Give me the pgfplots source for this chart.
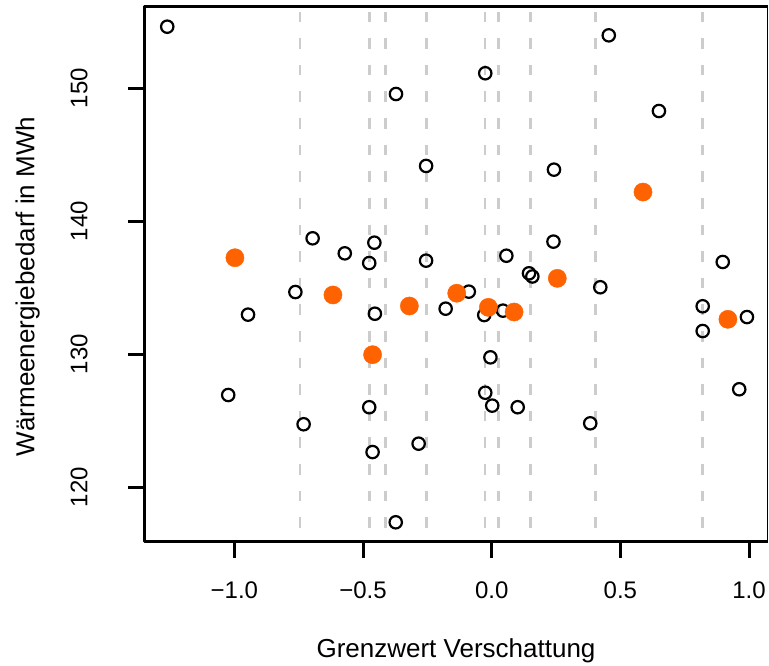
\documentclass[border=0pt]{standalone}
\usepackage{fontspec}
\setmainfont{Liberation Sans}
\usepackage{pgfplots}
\pgfplotsset{compat=1.18}
\definecolor{ptorange}{RGB}{255,98,0}
\definecolor{vline}{RGB}{204,204,204}
\pgfplotsset{vl/.style={vline, line width=1.3bp, dash pattern=on 5.3bp off 8bp, dash phase=10.55bp}}
\begin{document}
\begin{tikzpicture}
\begin{axis}[
  scale only axis, width=311.5bp, height=267.75bp,
  xmin=-1.3494, xmax=1.0719, ymin=115.91, ymax=156.17,
  axis line style={draw=none},
  xtick={-1,-0.5,0,0.5,1}, xticklabels={−1.0,−0.5,0.0,0.5,1.0},
  ytick={120,130,140,150}, yticklabels={120,130,140,150},
  tick pos=left, tick align=outside,
  major tick length=8bp, major tick style={line width=1.5bp, black},
  xticklabel style={font=\fontsize{12bp}{12bp}\selectfont, anchor=base, yshift=-20.5bp},
  yticklabel style={font=\fontsize{12bp}{12bp}\selectfont, rotate=90, anchor=base, yshift=20.6bp},
  xlabel={Grenzwert Verschattung},
  xlabel style={font=\fontsize{13bp}{13bp}\selectfont, at={([yshift=-57.8bp]axis description cs:0.5,0)}, anchor=base},
  ylabel={Wärmeenergiebedarf in MWh},
  ylabel style={font=\fontsize{13bp}{13bp}\selectfont, at={([xshift=-55bp]axis description cs:0,0.4766)}, anchor=base},
]
\addplot[only marks, black, line width=1.1bp, mark=o, mark size=3.1bp] table {
x y
-1.261 154.63
-0.372 149.57
-0.255 144.16
-0.696 138.72
-0.571 137.59
-0.456 138.39
-0.476 136.86
-0.255 137.04
0.455 153.98
-0.025 151.13
0.650 148.29
0.242 143.88
0.240 138.47
0.057 137.41
0.898 136.94
0.145 136.09
0.158 135.85
-0.763 134.68
-0.947 132.98
-0.454 133.05
-0.179 133.43
-1.024 126.94
-0.476 126.02
-0.731 124.74
-0.463 122.65
-0.284 123.28
-0.373 117.37
0.422 135.04
-0.089 134.71
-0.029 132.95
0.044 133.28
0.820 133.61
0.820 131.75
0.992 132.80
-0.005 129.77
-0.025 127.11
0.002 126.14
0.101 126.02
0.962 127.37
0.383 124.81
};
\addplot[vl] coordinates {(-0.745,156.17) (-0.745,115.91)};
\addplot[vl] coordinates {(-0.475,156.17) (-0.475,115.91)};
\addplot[vl] coordinates {(-0.4135,156.17) (-0.4135,115.91)};
\addplot[vl] coordinates {(-0.2534,156.17) (-0.2534,115.91)};
\addplot[vl] coordinates {(-0.026,156.17) (-0.026,115.91)};
\addplot[vl] coordinates {(0.0257,156.17) (0.0257,115.91)};
\addplot[vl] coordinates {(0.1516,156.17) (0.1516,115.91)};
\addplot[vl] coordinates {(0.4026,156.17) (0.4026,115.91)};
\addplot[vl] coordinates {(0.820,156.17) (0.820,115.91)};
\addplot[only marks, ptorange, line width=0.2bp, mark=*, mark size=4.55bp] table {
x y
-0.998 137.26
-0.617 134.46
-0.463 129.97
-0.320 133.63
-0.136 134.59
-0.013 133.53
0.087 133.18
0.255 135.71
0.588 142.20
0.918 132.63
};
\coordinate (SW) at (rel axis cs:0,0);
\coordinate (NE) at (rel axis cs:1,1);
\end{axis}
\draw[line width=1.5bp, line join=round] (NE) -- (SW|-NE) -- (SW) -- (NE|-SW);
\draw[line width=0.5bp] (NE|-SW) -- (NE);
\pgfresetboundingbox
\path[use as bounding box] ([xshift=-72.25bp,yshift=-62.15bp]SW) rectangle ([xshift=0.75bp,yshift=3.1bp]NE);
\end{tikzpicture}
\end{document}
